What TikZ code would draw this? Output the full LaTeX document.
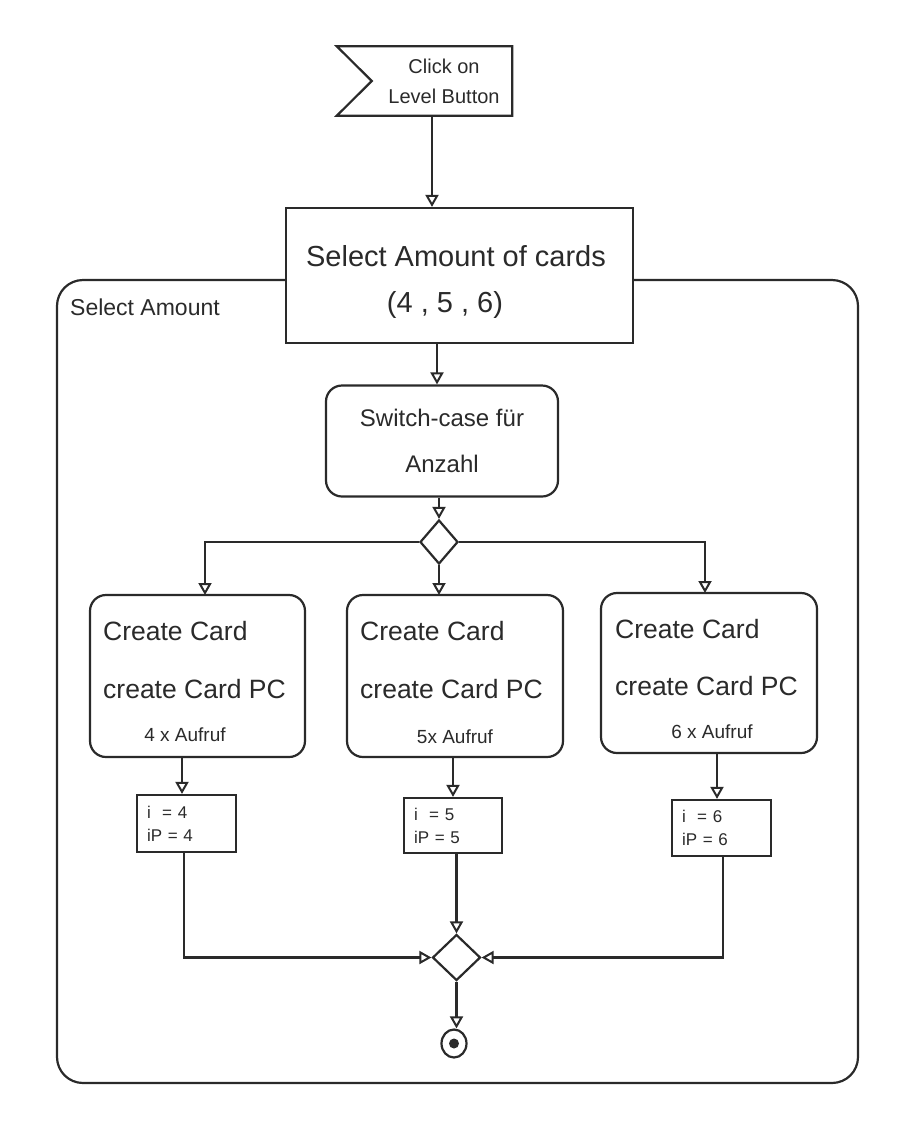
\documentclass[tikz,border=0pt]{standalone}
\usepackage{fontspec}
\setmainfont{Liberation Sans}
\usetikzlibrary{arrows.meta,shapes.geometric}
\definecolor{ink}{HTML}{2A2A2A}
\tikzset{
  ln/.style={draw=ink, line width=2.2pt},
  arr/.style={ln, -{Triangle[open, length=12pt, width=13pt, line width=2pt]}},
  abox/.style={ln, fill=white, rounded corners=16pt, inner sep=0pt},
  sbox/.style={ln, fill=white, inner sep=0pt},
  txt/.style={text=ink, inner sep=0pt},
  dia/.style={ln, fill=white, diamond, inner sep=0pt},
}
\begin{document}
\begin{tikzpicture}[x=1pt, y=-1pt]
\useasboundingbox (0,0) rectangle (921,1141);
% container
\node[ln, rounded corners=26pt, minimum width=801pt, minimum height=803pt, inner sep=0pt] (frame) at (457.5,681.5) {};
\node[txt, anchor=west, font=\fontsize{23}{26}\selectfont] (framelbl) at (70,307) {Select Amount};
% start flag
\node[minimum width=175pt, minimum height=69pt, inner sep=0pt] (flag) at (424.5,81) {};
\draw[ln] (flag.north west) -- (flag.north east) -- (flag.south east) -- (flag.south west) -- ([xshift=35pt]flag.west) -- cycle;
\node[txt, align=center, font=\fontsize{20}{30}\selectfont] (flagtxt) at (444,81) {Click on\\Level Button};
% select box
\node[sbox, minimum width=347pt, minimum height=135pt] (sel) at (459.5,275.5) {};
\node[txt, font=\fontsize{29}{32}\selectfont] (seltxt1) at (456,256) {Select Amount of cards};
\node[txt, font=\fontsize{29}{32}\selectfont] (seltxt2) at (445,305) {(4 , 5 , 6)};
\coordinate (a1) at (432,115);
\draw[arr] (a1) -- (a1 |- sel.north);
% switch
\node[abox, minimum width=232pt, minimum height=111pt, align=center, text=ink, font=\fontsize{24}{46}\selectfont] (sw) at (442,441) {Switch-case für\\Anzahl};
\coordinate (a2) at (437,343);
\draw[arr] (a2) -- (a2 |- sw.north);
% decision
\node[dia, minimum width=38pt, minimum height=44pt] (dec) at (439,542) {};
\draw[arr] (sw.south -| dec.north) -- (dec.north);
% actions
\node[abox, minimum width=215pt, minimum height=162pt] (c1) at (197.5,676) {};
\node[abox, minimum width=216pt, minimum height=162pt] (c2) at (455,676) {};
\node[abox, minimum width=216pt, minimum height=160pt] (c3) at (709,673) {};
\coordinate (b1) at (205,595);
\coordinate (b2) at (439,595);
\coordinate (b3) at (705,593);
\draw[arr] (dec.west) -| (b1);
\draw[arr] (dec.south) -- (b2);
\draw[arr] (dec.east) -| (b3);
\tikzset{big/.style={txt, anchor=west, font=\fontsize{26.5}{30}\selectfont},
         small/.style={txt, font=\fontsize{19}{22}\selectfont}}
\node[big] (c1t1) at (103,631) {Create Card};
\node[big] (c1t2) at (103,689) {create Card PC};
\node[small] (c1t3) at (185,735) {4 x Aufruf};
\node[big] (c2t1) at (360,631) {Create Card};
\node[big] (c2t2) at (360,689) {create Card PC};
\node[small] (c2t3) at (455,737) {5x Aufruf};
\node[big] (c3t1) at (615,629) {Create Card};
\node[big] (c3t2) at (615,686) {create Card PC};
\node[small] (c3t3) at (712,732) {6 x Aufruf};
% small boxes
\tikzset{var/.style={txt, align=left, text width=80pt, font=\fontsize{17}{23}\selectfont}}
\node[sbox, minimum width=99pt, minimum height=57pt] (s1) at (186.5,823.5) {};
\node[var, anchor=west] (s1t) at ([xshift=11pt]s1.west) {i \ = 4\\iP = 4};
\node[sbox, minimum width=98pt, minimum height=55pt] (s2) at (453,825.5) {};
\node[var, anchor=west] (s2t) at ([xshift=11pt]s2.west) {i \ = 5\\iP = 5};
\node[sbox, minimum width=99pt, minimum height=56pt] (s3) at (721.5,828) {};
\node[var, anchor=west] (s3t) at ([xshift=11pt]s3.west) {i \ = 6\\iP = 6};
\coordinate (d1) at (182,757);
\coordinate (d2) at (453,757);
\coordinate (d3) at (717,753);
\draw[arr] (d1) -- (d1 |- s1.north);
\draw[arr] (d2) -- (d2 |- s2.north);
\draw[arr] (d3) -- (d3 |- s3.north);
% merge
\node[dia, minimum width=48pt, minimum height=46pt] (m) at (456.5,957.5) {};
\coordinate (e1) at (184,852);
\coordinate (e3) at (723,856);
\draw[arr] (e1) |- (m.west);
\draw[arr] (s2.south -| m.north) -- (m.north);
\draw[arr] (e3) |- (m.east);
% end
\node[ln, ellipse, minimum width=25pt, minimum height=28pt, inner sep=0pt] (fin) at (454,1043.5) {};
\fill[ink] (fin.center) circle (5pt);
\draw[arr] (m.south) -- (m.south |- fin.north);
\end{tikzpicture}
\end{document}
